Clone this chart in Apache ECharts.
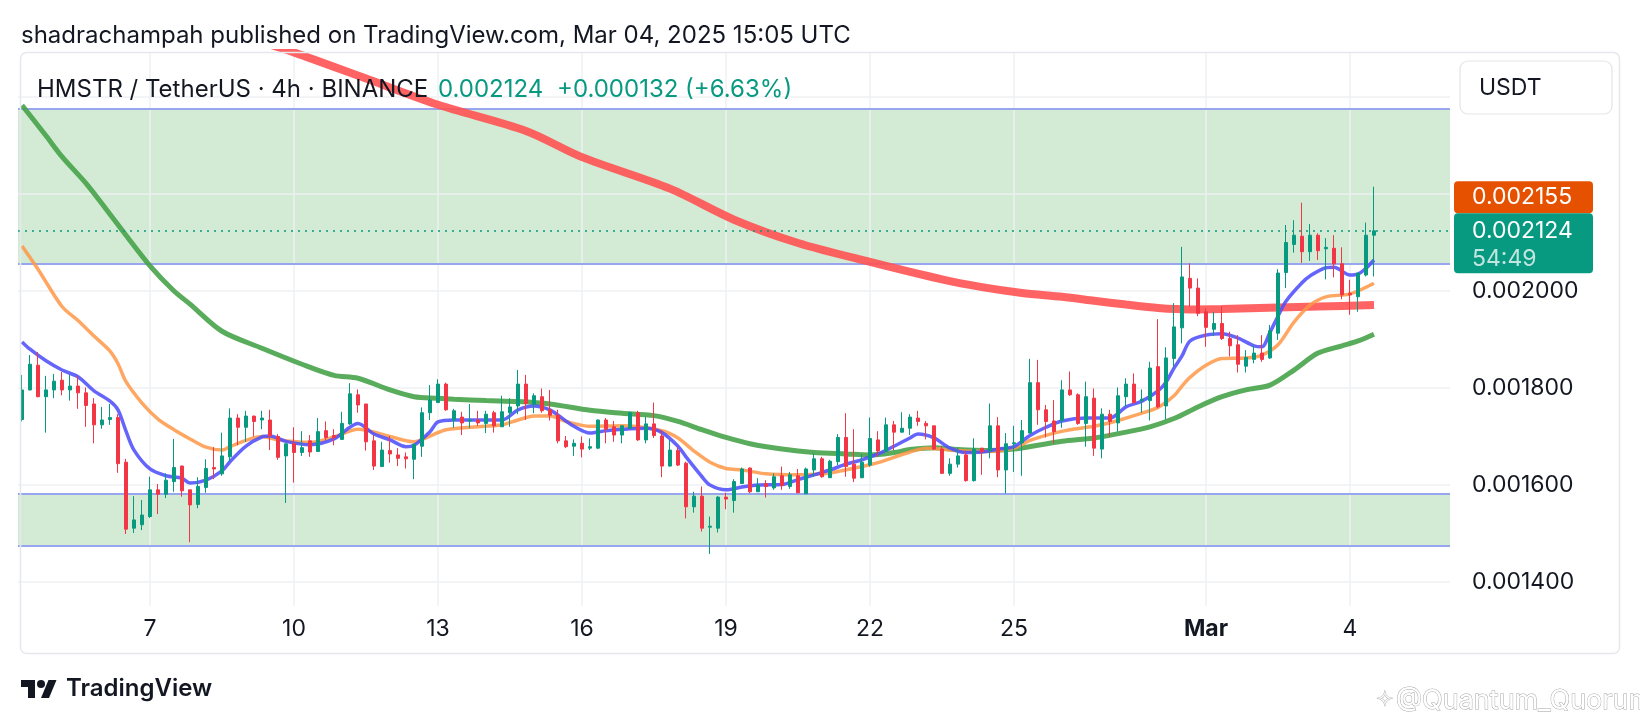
<!DOCTYPE html>
<html><head><meta charset="utf-8">
<script src="https://cdn.jsdelivr.net/npm/echarts@6/dist/echarts.min.js"></script>
<style>html,body{margin:0;padding:0;background:#fff}#c{width:1640px;height:724px}</style>
</head><body><div id="c"></div>
<script>
// ---- data (4h candles, HMSTR/USDT) : [open, close, low, high]
const ohlc = [
[0.001735,0.001796,0.001731,0.001827],[0.001796,0.001849,0.001795,0.001868],[0.001847,0.001782,0.001781,0.001874],[0.001782,0.001796,0.001708,0.001825],
[0.001796,0.001814,0.001779,0.001829],[0.001816,0.001796,0.001785,0.001833],[0.001796,0.001804,0.001774,0.001827],[0.001804,0.001790,0.001757,0.001825],
[0.001790,0.001764,0.001720,0.001801],[0.001767,0.001724,0.001686,0.001779],[0.001724,0.001734,0.001716,0.001761],[0.001735,0.001739,0.001724,0.001767],
[0.001739,0.001644,0.001625,0.001746],[0.001647,0.001509,0.001499,0.001654],[0.001511,0.001528,0.001501,0.001577],[0.001518,0.001538,0.001507,0.001569],
[0.001535,0.001590,0.001532,0.001617],[0.001590,0.001581,0.001540,0.001602],[0.001581,0.001610,0.001573,0.001624],[0.001607,0.001636,0.001586,0.001695],
[0.001639,0.001588,0.001576,0.001640],[0.001590,0.001559,0.001482,0.001590],[0.001560,0.001597,0.001552,0.001616],[0.001595,0.001634,0.001584,0.001653],
[0.001636,0.001633,0.001612,0.001678],[0.001623,0.001660,0.001619,0.001708],[0.001658,0.001738,0.001648,0.001758],[0.001738,0.001719,0.001682,0.001746],
[0.001719,0.001742,0.001689,0.001753],[0.001742,0.001731,0.001700,0.001743],[0.001734,0.001738,0.001715,0.001753],[0.001734,0.001701,0.001672,0.001755],
[0.001700,0.001657,0.001652,0.001705],[0.001660,0.001685,0.001563,0.001685],[0.001685,0.001667,0.001605,0.001719],[0.001667,0.001677,0.001660,0.001711],
[0.001691,0.001668,0.001658,0.001703],[0.001669,0.001710,0.001668,0.001738],[0.001712,0.001698,0.001693,0.001731],[0.001702,0.001698,0.001682,0.001715],
[0.001694,0.001727,0.001693,0.001751],[0.001726,0.001788,0.001724,0.001810],[0.001786,0.001765,0.001749,0.001797],[0.001767,0.001689,0.001671,0.001767],
[0.001691,0.001639,0.001631,0.001703],[0.001638,0.001672,0.001637,0.001689],[0.001671,0.001664,0.001646,0.001701],[0.001662,0.001655,0.001639,0.001676],
[0.001658,0.001654,0.001634,0.001667],[0.001653,0.001684,0.001612,0.001684],[0.001680,0.001749,0.001658,0.001760],[0.001749,0.001775,0.001734,0.001806],
[0.001770,0.001808,0.001769,0.001818],[0.001808,0.001755,0.001753,0.001811],[0.001734,0.001753,0.001718,0.001757],[0.001740,0.001728,0.001703,0.001751],
[0.001732,0.001734,0.001717,0.001767],[0.001734,0.001728,0.001722,0.001753],[0.001727,0.001746,0.001707,0.001753],[0.001749,0.001722,0.001708,0.001753],
[0.001720,0.001751,0.001720,0.001784],[0.001749,0.001761,0.001720,0.001779],[0.001763,0.001808,0.001746,0.001837],[0.001808,0.001768,0.001734,0.001827],
[0.001767,0.001784,0.001748,0.001789],[0.001782,0.001753,0.001749,0.001799],[0.001755,0.001744,0.001733,0.001796],[0.001744,0.001691,0.001686,0.001755],
[0.001691,0.001679,0.001676,0.001701],[0.001680,0.001686,0.001660,0.001694],[0.001686,0.001674,0.001657,0.001700],[0.001676,0.001679,0.001672,0.001696],
[0.001676,0.001734,0.001674,0.001735],[0.001734,0.001715,0.001686,0.001738],[0.001720,0.001703,0.001689,0.001732],[0.001703,0.001722,0.001686,0.001722],
[0.001717,0.001749,0.001716,0.001751],[0.001749,0.001693,0.001691,0.001753],[0.001693,0.001726,0.001686,0.001741],[0.001726,0.001702,0.001697,0.001770],
[0.001701,0.001639,0.001616,0.001713],[0.001639,0.001672,0.001638,0.001693],[0.001671,0.001641,0.001639,0.001678],[0.001645,0.001555,0.001531,0.001648],
[0.001555,0.001577,0.001543,0.001586],[0.001577,0.001511,0.001504,0.001597],[0.001513,0.001515,0.001458,0.001535],[0.001511,0.001575,0.001502,0.001577],
[0.001575,0.001571,0.001550,0.001584],[0.001568,0.001607,0.001543,0.001612],[0.001603,0.001633,0.001603,0.001636],[0.001635,0.001586,0.001583,0.001636],
[0.001586,0.001600,0.001586,0.001614],[0.001603,0.001597,0.001574,0.001610],[0.001594,0.001617,0.001590,0.001624],[0.001619,0.001599,0.001590,0.001638],
[0.001597,0.001621,0.001592,0.001627],[0.001619,0.001584,0.001583,0.001633],[0.001582,0.001633,0.001582,0.001636],[0.001631,0.001654,0.001617,0.001665],
[0.001654,0.001617,0.001615,0.001658],[0.001615,0.001649,0.001615,0.001652],[0.001648,0.001698,0.001641,0.001705],[0.001698,0.001638,0.001617,0.001748],
[0.001643,0.001614,0.001606,0.001715],[0.001615,0.001647,0.001614,0.001663],[0.001641,0.001696,0.001638,0.001739],[0.001693,0.001670,0.001658,0.001711],
[0.001670,0.001724,0.001669,0.001739],[0.001724,0.001709,0.001672,0.001732],[0.001709,0.001717,0.001708,0.001750],[0.001717,0.001740,0.001703,0.001746],
[0.001738,0.001731,0.001722,0.001753],[0.001727,0.001722,0.001694,0.001732],[0.001722,0.001674,0.001672,0.001722],[0.001674,0.001624,0.001623,0.001680],
[0.001624,0.001643,0.001619,0.001655],[0.001643,0.001660,0.001636,0.001676],[0.001662,0.001609,0.001607,0.001669],[0.001609,0.001674,0.001607,0.001696],
[0.001676,0.001669,0.001621,0.001676],[0.001671,0.001722,0.001655,0.001768],[0.001722,0.001631,0.001616,0.001740],[0.001631,0.001685,0.001583,0.001707],
[0.001685,0.001687,0.001627,0.001722],[0.001687,0.001712,0.001619,0.001734],[0.001707,0.001811,0.001706,0.001860],[0.001811,0.001755,0.001724,0.001858],
[0.001755,0.001731,0.001698,0.001765],[0.001732,0.001710,0.001686,0.001775],[0.001733,0.001796,0.001718,0.001816],[0.001796,0.001786,0.001784,0.001834],
[0.001786,0.001727,0.001724,0.001789],[0.001727,0.001782,0.001679,0.001813],[0.001779,0.001676,0.001660,0.001799],[0.001674,0.001746,0.001655,0.001758],
[0.001746,0.001731,0.001700,0.001755],[0.001728,0.001784,0.001710,0.001801],[0.001782,0.001808,0.001761,0.001820],[0.001808,0.001770,0.001767,0.001830],
[0.001774,0.001777,0.001749,0.001797],[0.001774,0.001841,0.001733,0.001854],[0.001844,0.001761,0.001758,0.001942],[0.001763,0.001862,0.001735,0.001884],
[0.001861,0.001926,0.001844,0.001975],[0.001924,0.002029,0.001892,0.002091],[0.002026,0.002006,0.001968,0.002057],[0.002006,0.001954,0.001948,0.002026],
[0.001957,0.001925,0.001885,0.001964],[0.001921,0.001933,0.001907,0.001957],[0.001933,0.001902,0.001899,0.001969],[0.001902,0.001887,0.001865,0.001916],
[0.001889,0.001849,0.001832,0.001909],[0.001845,0.001863,0.001832,0.001878],[0.001859,0.001872,0.001851,0.001887],[0.001872,0.001859,0.001854,0.001909],
[0.001862,0.001918,0.001860,0.001930],[0.001913,0.002037,0.001899,0.002045],[0.002038,0.002100,0.002006,0.002136],[0.002096,0.002115,0.002079,0.002146],
[0.002113,0.002081,0.002058,0.002182],[0.002081,0.002115,0.002062,0.002138],[0.002115,0.002083,0.002064,0.002119],[0.002087,0.002090,0.002024,0.002109],
[0.002088,0.002056,0.002028,0.002115],[0.002056,0.001992,0.001983,0.002090],[0.001995,0.001992,0.001951,0.002023],[0.001988,0.002037,0.001957,0.002037],
[0.002033,0.002115,0.002030,0.002141],[0.002115,0.002124,0.002030,0.002215]
];
// moving averages: [bar index, value]
const maBlue = [[0,0.001895],[1,0.001880],[3,0.001856],[5,0.001837],[7,0.001823],[9,0.001794],[11,0.001773],[12,0.001755],[13,0.001711],[14,0.001672],[16,0.001633],[18,0.001619],[20,0.001614],[21,0.001604],[23,0.001610],[25,0.001629],[26,0.001648],[28,0.001680],[30,0.001699],[31,0.001701],[33,0.001690],[36,0.001683],[39,0.001695],[42,0.001727],[44,0.001705],[46,0.001693],[48,0.001679],[49,0.001682],[51,0.001710],[52,0.001730],[54,0.001734],[60,0.001734],[62,0.001755],[64,0.001763],[66,0.001755],[67,0.001744],[69,0.001721],[71,0.001707],[73,0.001712],[78,0.001717],[80,0.001708],[82,0.001680],[83,0.001658],[85,0.001617],[86,0.001600],[88,0.001590],[90,0.001596],[92,0.001600],[95,0.001601],[97,0.001611],[99,0.001621],[101,0.001631],[103,0.001643],[105,0.001652],[107,0.001664],[109,0.001680],[111,0.001697],[112,0.001705],[114,0.001697],[116,0.001676],[118,0.001667],[120,0.001668],[122,0.001674],[124,0.001679],[126,0.001702],[128,0.001719],[130,0.001732],[133,0.001738],[136,0.001738],[138,0.001761],[140,0.001773],[142,0.001794],[143,0.001812],[144,0.001841],[145,0.001866],[146,0.001897],[148,0.001909],[150,0.001912],[152,0.001903],[154,0.001887],[155,0.001885],[156,0.001915],[157,0.001948],[158,0.001979],[160,0.002017],[161,0.002031],[163,0.002048],[164,0.002049],[166,0.002033],[167,0.002035],[168,0.002047],[169,0.002064]];
const maOrange = [[0,0.002093],[2,0.002045],[5,0.001968],[7,0.001939],[9,0.001907],[11,0.001876],[12,0.001850],[13,0.001813],[15,0.001769],[17,0.001736],[19,0.001714],[21,0.001695],[23,0.001678],[25,0.001672],[26,0.001679],[28,0.001692],[30,0.001700],[32,0.001693],[36,0.001688],[39,0.001699],[42,0.001715],[46,0.001700],[49,0.001689],[51,0.001701],[53,0.001714],[56,0.001719],[60,0.001724],[62,0.001734],[64,0.001742],[66,0.001742],[68,0.001731],[71,0.001721],[75,0.001722],[80,0.001712],[82,0.001697],[84,0.001670],[86,0.001647],[88,0.001634],[90,0.001631],[93,0.001623],[97,0.001621],[100,0.001623],[102,0.001628],[105,0.001638],[107,0.001646],[111,0.001668],[113,0.001676],[117,0.001671],[121,0.001669],[124,0.001676],[126,0.001692],[129,0.001707],[131,0.001714],[134,0.001721],[137,0.001733],[140,0.001748],[142,0.001760],[144,0.001784],[145,0.001804],[146,0.001822],[148,0.001847],[150,0.001861],[153,0.001862],[155,0.001868],[157,0.001889],[159,0.001936],[161,0.001971],[163,0.001988],[166,0.001994],[169,0.002016]];
const maGreen = [[0,0.002383],[3,0.002320],[5,0.002277],[8,0.002222],[10,0.002180],[13,0.002115],[16,0.002052],[19,0.002000],[21,0.001973],[25,0.001917],[30,0.001882],[35,0.001849],[39,0.001826],[42,0.001820],[46,0.001796],[49,0.001782],[52,0.001779],[54,0.001777],[58,0.001774],[62,0.001772],[66,0.001767],[71,0.001754],[75,0.001748],[79,0.001743],[82,0.001731],[85,0.001714],[88,0.001698],[91,0.001685],[95,0.001674],[99,0.001667],[103,0.001664],[106,0.001662],[109,0.001667],[111,0.001673],[114,0.001677],[117,0.001673],[121,0.001671],[124,0.001674],[127,0.001682],[130,0.001690],[134,0.001697],[138,0.001709],[141,0.001720],[144,0.001737],[147,0.001761],[150,0.001782],[153,0.001796],[156,0.001806],[159,0.001837],[162,0.001872],[165,0.001887],[167,0.001897],[169,0.001911]];
const maRed = [[30,0.002513],[34,0.002492],[43,0.002438],[52,0.002384],[63,0.002330],[70,0.002276],[81,0.002211],[89,0.002147],[97,0.002099],[106,0.002060],[115,0.002024],[120,0.002008],[125,0.001996],[130,0.001988],[134,0.001980],[138,0.001972],[142,0.001965],[146,0.001962],[150,0.001963],[157,0.001966],[162,0.001968],[169,0.001971]];
const zoneUpper = [0.002375, 0.002056];
const zoneLower = [0.001581, 0.001475];
const priceTicks = [0.0014, 0.0016, 0.0018, 0.0020];
const gridPrices = [0.0014, 0.0016, 0.0018, 0.0020, 0.0022, 0.0024];
const tickDates = ['2025-02-07 00:00','2025-02-10 00:00','2025-02-13 00:00','2025-02-16 00:00','2025-02-19 00:00','2025-02-22 00:00','2025-02-25 00:00','2025-03-01 00:00','2025-03-04 00:00'];
const tickLabels = ['7','10','13','16','19','22','25','Mar','4'];
const lastPrice = 0.002124;
const lastChange = '+0.000132 (+6.63%)';
const markPrice = 0.002155;
const countdown = '54:49';
const firstBar = '2025-02-04T08:00:00Z';
const emptyBarsRight = 9;

// ---- categories (bar open times)
const pad = n => String(n).padStart(2, '0');
const cats = [];
const t0 = Date.parse(firstBar);
for (let i = 0; i < ohlc.length + emptyBarsRight; i++) {
  const d = new Date(t0 + i * 4 * 3600 * 1000);
  cats.push(d.getUTCFullYear() + '-' + pad(d.getUTCMonth() + 1) + '-' + pad(d.getUTCDate()) + ' ' + pad(d.getUTCHours()) + ':00');
}
const labelOf = {};
tickDates.forEach((d, k) => labelOf[d] = tickLabels[k]);

const FONT = 'Inter, "Noto Sans", sans-serif';
const INK = '#131722';
const GREEN = '#089981', RED = '#f23645';

const chart = echarts.init(document.getElementById('c'), null, {renderer: 'canvas'});
const noMark = {symbol: 'none', silent: true, label: {show: false}, emphasis: {disabled: true}, precision: 8, animation: false};
const option = {
  animation: false,
  backgroundColor: '#ffffff',
  textStyle: {fontFamily: FONT},
  grid: {left: 18, right: 190, top: 53, bottom: 118},
  xAxis: {
    type: 'category', data: cats, boundaryGap: true,
    axisLine: {show: false}, axisTick: {show: false}, splitLine: {show: false},
    axisLabel: {
      interval: (i, v) => labelOf[v] !== undefined,
      formatter: v => labelOf[v] === 'Mar' ? '{b|Mar}' : (labelOf[v] || ''),
      color: INK, fontSize: 23, fontFamily: FONT, margin: 12,
      rich: {b: {fontWeight: 'bold', fontSize: 23, color: INK, fontFamily: FONT}}
    }
  },
  yAxis: {
    type: 'value', position: 'right', scale: true,
    min: 0.0013505, max: 0.0024907,
    axisLine: {show: false}, axisTick: {show: false}, splitLine: {show: false},
    axisLabel: {customValues: priceTicks, formatter: v => v.toFixed(6), color: INK, fontSize: 23, fontFamily: FONT, margin: 22}
  },
  series: [
    { // green zones + grid
      type: 'line', data: [], z: 1, silent: true,
      markArea: {silent: true, z: 1, itemStyle: {color: '#d3ebd4'}, label: {show: false},
        data: [[{yAxis: zoneUpper[0]}, {yAxis: zoneUpper[1]}], [{yAxis: zoneLower[0]}, {yAxis: zoneLower[1]}]]},
      markLine: Object.assign({}, noMark, {z: 1.5, lineStyle: {color: '#eef0f3', width: 1.5, type: 'solid'},
        data: gridPrices.map(v => ({yAxis: v})).concat(tickDates.map(d => ({xAxis: d})))})
    },
    { // zone borders
      type: 'line', data: [], z: 2, silent: true,
      markLine: Object.assign({}, noMark, {z: 2, lineStyle: {color: '#97a6ee', width: 2, type: 'solid'},
        data: zoneUpper.concat(zoneLower).map(v => ({yAxis: v}))})
    },
    {type: 'line', data: maRed, smooth: 0.3, showSymbol: false, z: 3, silent: true, lineStyle: {color: 'rgba(255,82,82,0.9)', width: 8}},
    {type: 'line', data: maGreen, smooth: 0.3, showSymbol: false, z: 3, silent: true, lineStyle: {color: 'rgba(67,160,71,0.88)', width: 5}},
    {type: 'line', data: maOrange, smooth: 0.3, showSymbol: false, z: 3, silent: true, lineStyle: {color: 'rgba(255,152,70,0.85)', width: 3.5}},
    {type: 'line', data: maBlue, smooth: 0.3, showSymbol: false, z: 3, silent: true, lineStyle: {color: 'rgba(80,80,250,0.88)', width: 3.5}},
    {
      type: 'candlestick', data: ohlc, z: 4, barWidth: 4,
      itemStyle: {color: GREEN, color0: RED, borderColor: GREEN, borderColor0: RED, borderWidth: 1}
    },
    { // last price dotted line
      type: 'line', data: [], z: 6, silent: true,
      markLine: Object.assign({}, noMark, {z: 6, lineStyle: {color: GREEN, width: 1.5, type: [2, 5]}, data: [{yAxis: lastPrice}]})
    }
  ]
};
chart.setOption(option);

const yLast = chart.convertToPixel({yAxisIndex: 0}, lastPrice);
const yMark = chart.convertToPixel({yAxisIndex: 0}, markPrice);
const gTop = yLast - 17.5, gH = 60, oH = 32;
const oTop = Math.min(yMark - oH / 2, gTop - oH);
const txt = (x, y, text, font, fill, extra) => ({type: 'text', x: x, y: y, silent: true, z: 100,
  style: Object.assign({text: text, font: font, fill: fill, verticalAlign: 'middle', align: 'left'}, extra || {})});
const LX = 21, LY = 676; // logo origin

chart.setOption({graphic: [
  {type: 'rect', silent: true, z: 50, shape: {x: 20.5, y: 52.5, width: 1599, height: 601, r: 6}, style: {fill: 'none', stroke: '#e6e8ee', lineWidth: 1.5}},
  txt(21, 36, 'shadrachampah published on TradingView.com, Mar 04, 2025 15:05 UTC', '400 24px ' + FONT, INK),
  txt(37, 90, 'HMSTR / TetherUS · 4h · BINANCE', '400 24px ' + FONT, INK),
  txt(438, 90, lastPrice.toFixed(6), '400 24px ' + FONT, GREEN),
  txt(557, 90, lastChange, '400 24px ' + FONT, GREEN),
  {type: 'rect', silent: true, z: 60, shape: {x: 1460, y: 61, width: 152, height: 53, r: 8}, style: {fill: '#fff', stroke: '#e3e5ea', lineWidth: 1.2}},
  txt(1479, 88, 'USDT', '400 23px ' + FONT, INK),
  {type: 'rect', silent: true, z: 60, shape: {x: 1454, y: oTop, width: 139, height: oH, r: 4}, style: {fill: '#e65100'}},
  txt(1472, oTop + oH / 2, markPrice.toFixed(6), '400 23px ' + FONT, '#ffffff'),
  {type: 'rect', silent: true, z: 60, shape: {x: 1454, y: gTop, width: 139, height: gH, r: 4}, style: {fill: GREEN}},
  txt(1472, yLast, lastPrice.toFixed(6), '400 23px ' + FONT, '#ffffff'),
  txt(1472, yLast + 28, countdown, '400 23px ' + FONT, 'rgba(255,255,255,0.75)'),
  {type: 'polygon', silent: true, z: 100, shape: {points: [[LX+14,LY+22],[LX+7,LY+22],[LX+7,LY+11],[LX,LY+11],[LX,LY+4],[LX+14,LY+4]]}, style: {fill: INK}},
  {type: 'circle', silent: true, z: 100, shape: {cx: LX+20, cy: LY+8, r: 4}, style: {fill: INK}},
  {type: 'polygon', silent: true, z: 100, shape: {points: [[LX+28,LY+22],[LX+20,LY+22],[LX+27.5,LY+4],[LX+35.5,LY+4]]}, style: {fill: INK}},
  txt(66, 689, 'TradingView', '600 24px ' + FONT, INK),
  txt(1376, 701, '✧', '400 21px "DejaVu Sans"', '#ffffff', {stroke: '#b0b0b0', lineWidth: 1}),
  txt(1396, 701, '@Quantum_Quorum', '400 27px ' + FONT, '#ffffff', {stroke: '#a8a8a8', lineWidth: 1})
]});
</script></body></html>
